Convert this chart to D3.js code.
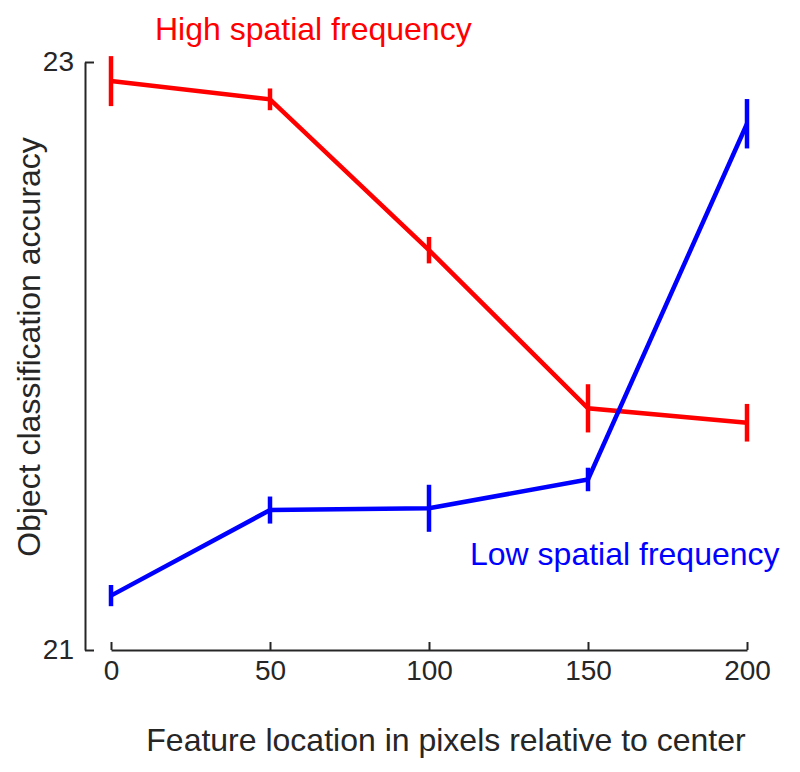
<!DOCTYPE html>
<html>
<head>
<meta charset="utf-8">
<script src="https://cdn.jsdelivr.net/npm/d3@7"></script>
<style>
  body { margin: 0; background: #fff; }
  text { font-family: "Liberation Sans", Arial, Helvetica, sans-serif; }
</style>
</head>
<body>
<svg id="chart" width="800" height="772"></svg>
<script>
const locations = [0, 50, 100, 150, 200];
const highSF = [22.935, 22.873, 22.36, 21.822, 21.773];
const highSFErr = [0.085, 0.037, 0.045, 0.082, 0.064];
const lowSF = [21.185, 21.476, 21.482, 21.58, 22.79];
const lowSFErr = [0.036, 0.046, 0.08, 0.04, 0.084];
const xTicks = [0, 50, 100, 150, 200];
const yTicks = [21, 23];
const seriesNames = ["High spatial frequency", "Low spatial frequency"];

const svg = d3.select("#chart");
const x = d3.scaleLinear().domain([0, 200]).range([111, 747]);
const y = d3.scaleLinear().domain([21, 23]).range([650, 62]);
const axisColor = "#262626";

// y axis
const yAxis = svg.append("g").attr("transform", "translate(85,0)")
  .call(d3.axisLeft(y).tickValues(yTicks).tickFormat(d3.format("d"))
    .tickSizeInner(-9).tickSizeOuter(0).tickPadding(11));
// x axis
const xAxis = svg.append("g").attr("transform", "translate(0,650)")
  .call(d3.axisBottom(x).tickValues(xTicks).tickFormat(d3.format("d"))
    .tickSizeInner(-8).tickSizeOuter(0).tickPadding(10));
[yAxis, xAxis].forEach(g => {
  g.select(".domain").attr("stroke", axisColor).attr("stroke-width", 2);
  g.selectAll(".tick line").attr("stroke", axisColor).attr("stroke-width", 2);
  g.selectAll(".tick text").attr("fill", axisColor).style("font-size", "28px")
    .style("font-family", "'Liberation Sans', Arial, sans-serif");
});
yAxis.selectAll(".tick text").attr("dy", "0.32em");

// axis titles
svg.append("text").attr("x", 446).attr("y", 751).attr("text-anchor", "middle")
  .attr("fill", axisColor).style("font-size", "32px")
  .text("Feature location in pixels relative to center");
svg.append("text").attr("transform", "translate(40,347) rotate(-90)")
  .attr("text-anchor", "middle").attr("fill", axisColor).style("font-size", "32px")
  .text("Object classification accuracy");

const line = d3.line().x((d, i) => x(locations[i])).y(d => y(d));

function drawSeries(vals, errs, color) {
  svg.append("path").datum(vals).attr("d", line).attr("fill", "none")
    .attr("stroke", color).attr("stroke-width", 4.5).attr("stroke-linejoin", "miter");
  svg.append("g").selectAll("line").data(vals).join("line")
    .attr("x1", (d, i) => x(locations[i])).attr("x2", (d, i) => x(locations[i]))
    .attr("y1", (d, i) => y(d + errs[i])).attr("y2", (d, i) => y(d - errs[i]))
    .attr("stroke", color).attr("stroke-width", 4.5);
}
drawSeries(highSF, highSFErr, "#ff0000");
drawSeries(lowSF, lowSFErr, "#0000ff");

svg.append("text").attr("x", 155).attr("y", 40).attr("fill", "#ff0000")
  .style("font-size", "32px").text(seriesNames[0]);
svg.append("text").attr("x", 470).attr("y", 565).attr("fill", "#0000ff")
  .style("font-size", "32px").text(seriesNames[1]);
</script>
</body>
</html>
